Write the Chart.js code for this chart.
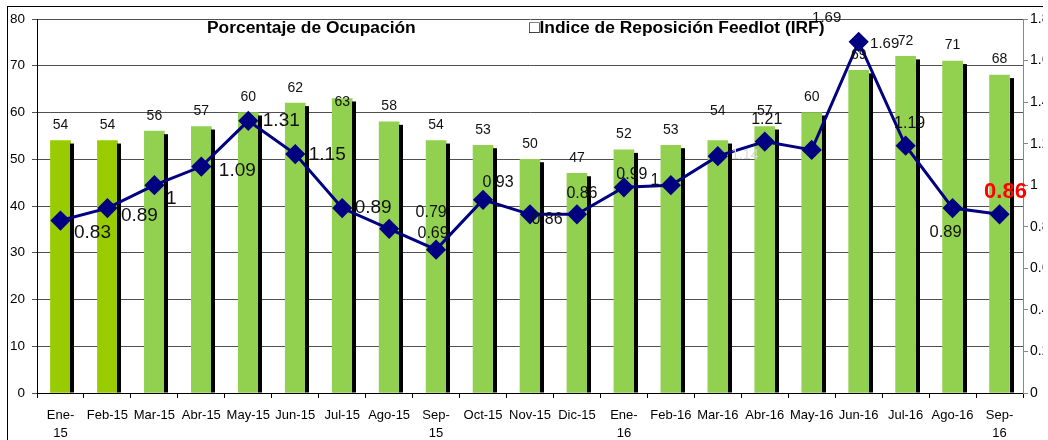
<!DOCTYPE html>
<html><head><meta charset="utf-8">
<script src="https://cdn.jsdelivr.net/npm/chart.js@4.4.0/dist/chart.umd.min.js"></script>
<style>html,body{margin:0;padding:0;background:#fff;overflow:hidden}#wrap{width:1048px;height:440px;position:relative}</style>
</head><body><div id="wrap"><canvas id="c" width="1043" height="440"></canvas></div>
<script>
const categories = [['Ene-','15'],'Feb-15','Mar-15','Abr-15','May-15','Jun-15','Jul-15','Ago-15',['Sep-','15'],'Oct-15','Nov-15','Dic-15',['Ene-','16'],'Feb-16','Mar-16','Abr-16','May-16','Jun-16','Jul-16','Ago-16',['Sep-','16']];
const ocupacion = [54,54,56,57,60,62,63,58,54,53,50,47,52,53,54,57,60,69,72,71,68];
const irf = [0.83,0.89,1,1.09,1.31,1.15,0.89,0.79,0.69,0.93,0.86,0.86,0.99,1,1.14,1.21,1.17,1.69,1.19,0.89,0.86];
const irfLabels = ['0.83','0.89','1','1.09','1.31','1.15','0.89','0.79','0.69','0.93','0.86','0.86','0.99','1','1.14','1.21','','1.69','1.19','0.89','0.86'];
const seriesNames = ['Porcentaje de Ocupación','\u25A1Indice de Reposición Feedlot (IRF)'];
const leftMax = 80, rightMax = 1.8;

const FONT = '"Liberation Sans", Arial, sans-serif';
const barColors = ocupacion.map((v,i)=> i<2 ? '#99CC00' : '#92D050');

// label placement (offsets from marker center, font size)
const irfLabelStyle = [
 [32,12,19],[32,8,19],[17,14,19],[36,4,19],[33,0,19],[32,1,19],[31,0,19],
 [42,-16,16],[-3,-16,16],[15,-17,16],[17,5,16],[5,-21,16],[8,-13,16],[-16,-5,16],
 [27,-1,14],[2,-22,16],[0,0,16],[26,2,15],[4,-22,16],[-7,24,16.5],[6,-22,22]
];
const barLabelDy = ocupacion.map((v,i)=> i===6 ? 3.5 : (i===14 ? -29 : -15.5));

const decor = {
  id:'decor',
  beforeDraw(chart){
    const ctx=chart.ctx; ctx.save(); ctx.fillStyle='#fff'; ctx.fillRect(0,0,chart.width,chart.height); ctx.restore();
  },
  afterDatasetDraw(chart,args){
    if(args.index!==0) return;
    const ctx=chart.ctx; ctx.save(); ctx.fillStyle='#000';
    chart.getDatasetMeta(0).data.forEach(el=>{
      const x=el.x+el.width/2; ctx.fillRect(Math.round(x), el.y+3, 4, el.base-el.y-3);
    });
    ctx.restore();
  },
  afterDatasetsDraw(chart){
    const ctx=chart.ctx; ctx.save();
    ctx.textAlign='center'; ctx.textBaseline='middle';
    ctx.font='14px '+FONT; ctx.fillStyle='#111';
    chart.getDatasetMeta(0).data.forEach((el,i)=>{
      ctx.fillText(String(ocupacion[i]), el.x, el.y+barLabelDy[i]);
    });
    chart.getDatasetMeta(1).data.forEach((el,i)=>{
      const s=irfLabelStyle[i]; const t=irfLabels[i]; if(!t) return;
      if(i===20){ ctx.font='bold '+s[2]+'px '+FONT; ctx.fillStyle='#FF0000'; }
      else if(i===14){ ctx.font=s[2]+'px '+FONT; ctx.fillStyle='#d9d9d9'; }
      else { ctx.font=s[2]+'px '+FONT; ctx.fillStyle='#111'; }
      ctx.fillText(t, el.x+s[0], el.y+s[1]);
      if(i===17){ ctx.fillText(t, el.x-32, el.y-24); }
    });
    ctx.restore();
  },
  afterDraw(chart){
    const ctx=chart.ctx; ctx.save();
    ctx.font='bold 17.4px '+FONT; ctx.fillStyle='#000'; ctx.textBaseline='alphabetic'; ctx.textAlign='left';
    ctx.fillText(seriesNames[0], 207, 33);
    ctx.fillText(seriesNames[1], 529, 33);
    ctx.strokeStyle='#000'; ctx.lineWidth=1; ctx.strokeRect(7.5,6.5,2000,2000);
    ctx.restore();
  }
};

new Chart(document.getElementById('c'),{
  data:{
    labels:categories,
    datasets:[
      {type:'bar',label:seriesNames[0],data:ocupacion,backgroundColor:barColors,yAxisID:'y',order:2,barThickness:20},
      {type:'line',label:seriesNames[1],data:irf,yAxisID:'y1',order:1,borderColor:'#000080',borderWidth:3,
       pointStyle:'rectRot',pointRadius:8,pointBackgroundColor:'#000080',pointBorderColor:'#000080',tension:0}
    ]
  },
  options:{
    responsive:false,animation:false,devicePixelRatio:1,
    layout:{padding:{top:19,left:0,right:0,bottom:0}},
    plugins:{legend:{display:false},tooltip:{enabled:false}},
    scales:{
      x:{offset:true,grid:{offset:true,drawOnChartArea:false,drawTicks:true,tickLength:5,color:'#000'},
         border:{color:'#000'},
         ticks:{color:'#000',font:{family:FONT,size:13,lineHeight:1.35},padding:9,maxRotation:0,autoSkip:false},
         afterFit(s){s.height=47;}},
      y:{position:'left',min:0,max:leftMax,ticks:{stepSize:10,color:'#000',font:{family:FONT,size:13.5},padding:7},
         grid:{color:'#505050',tickLength:5},border:{color:'#000'},afterFit(s){s.width=37;}},
      y1:{position:'right',min:0,max:rightMax,ticks:{stepSize:0.2,color:'#000',font:{family:FONT,size:14},padding:2,
           callback:v=>String(Math.round(v*10)/10)},
         grid:{drawOnChartArea:false,color:'#888',tickLength:5},border:{color:'#888'},afterFit(s){s.width=20;}}
    }
  },
  plugins:[decor]
});
</script></body></html>
